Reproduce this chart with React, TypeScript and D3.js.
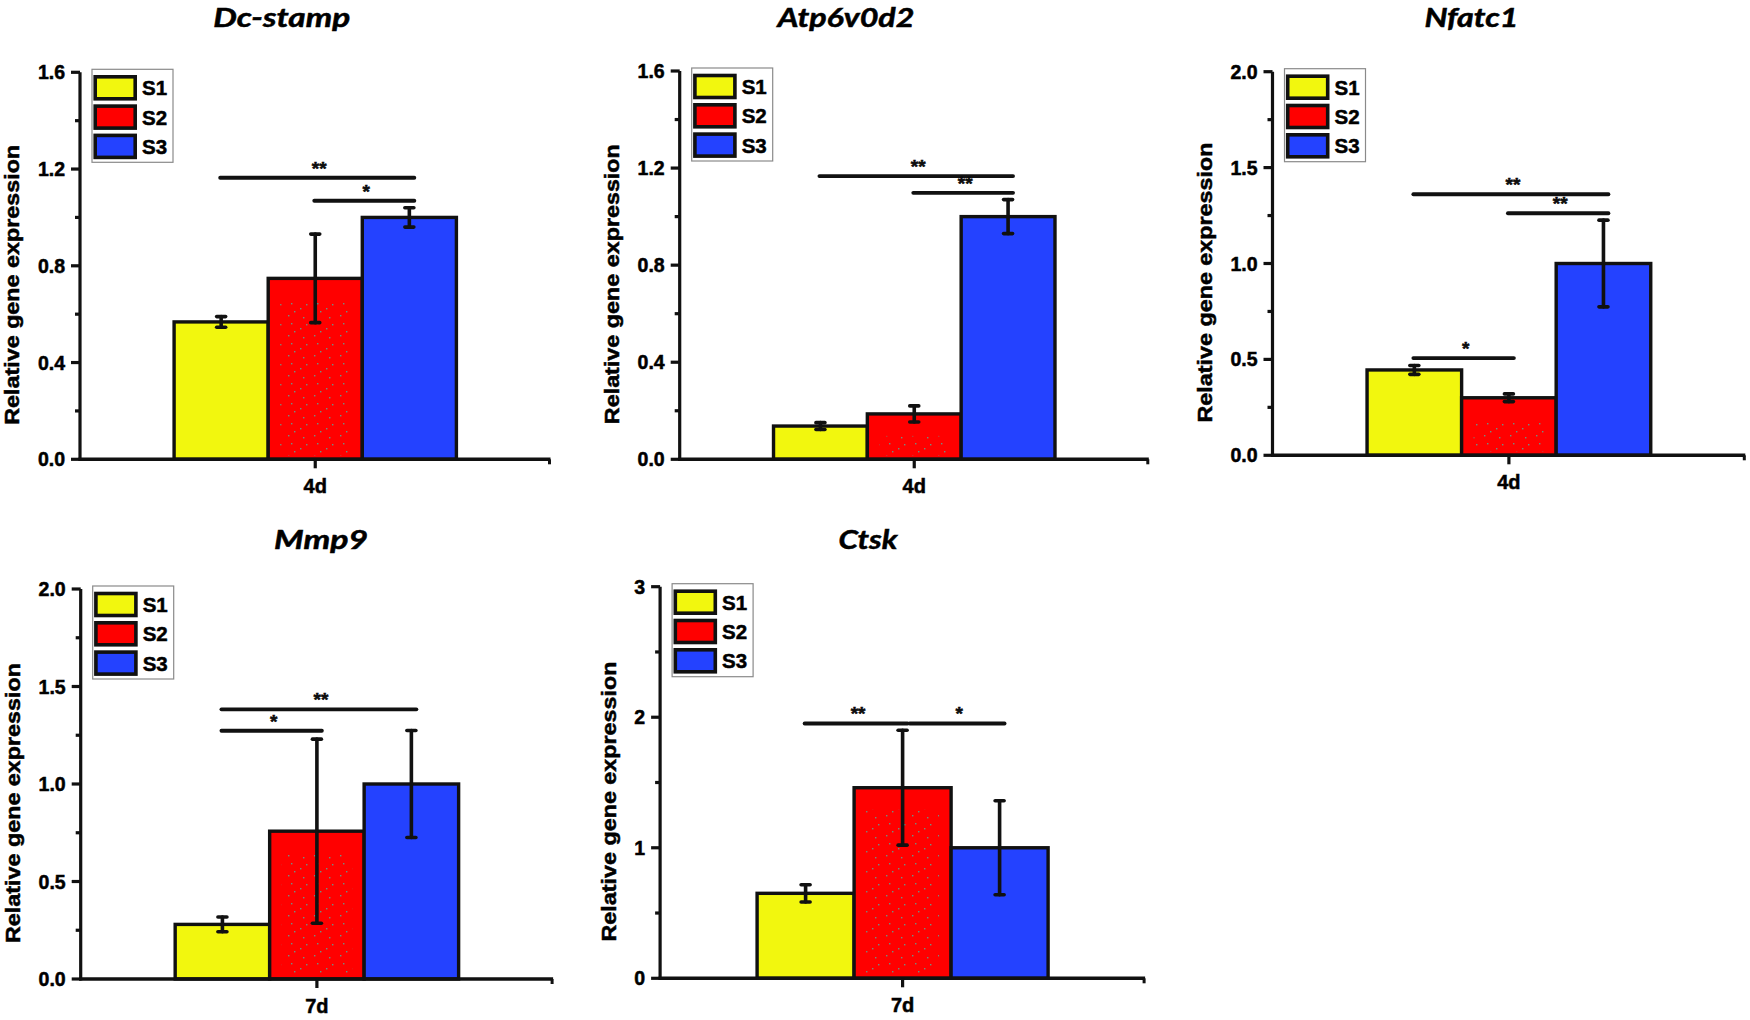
import React from "react";
import * as d3 from "d3";

// ---------- data ----------
const seriesNames = ["S1", "S2", "S3"];
const seriesColors = ["#f2f70e", "#ff0000", "#2442ff"];

const geneNames = ["Dc-stamp", "Atp6v0d2", "Nfatc1", "Mmp9", "Ctsk"];
const timeLabels = ["4d", "4d", "4d", "7d", "7d"];

const dcStampMean = [0.568, 0.748, 1.0];
const dcStampSD = [0.022, 0.183, 0.04];
const atp6v0d2Mean = [0.137, 0.187, 1.0];
const atp6v0d2SD = [0.014, 0.033, 0.07];
const nfatc1Mean = [0.445, 0.3, 1.0];
const nfatc1SD = [0.023, 0.02, 0.226];
const mmp9Mean = [0.28, 0.758, 1.0];
const mmp9SD = [0.038, 0.472, 0.274];
const ctskMean = [0.651, 1.46, 1.0];
const ctskSD = [0.066, 0.44, 0.36];

const yMaxes = [1.6, 1.6, 2.0, 2.0, 3];
const yTickSteps = [0.4, 0.4, 0.5, 0.5, 1];
const yTickDecimals = [1, 1, 1, 1, 0];

type Sig = { from: number; to: number; at: number; label: string };
const dcStampSig: Sig[] = [
  { from: 0, to: 2, at: 1.164, label: "**" },
  { from: 1, to: 2, at: 1.069, label: "*" },
];
const atp6v0d2Sig: Sig[] = [
  { from: 0, to: 2, at: 1.167, label: "**" },
  { from: 1, to: 2, at: 1.098, label: "**" },
];
const nfatc1Sig: Sig[] = [
  { from: 0, to: 2, at: 1.361, label: "**" },
  { from: 1, to: 2, at: 1.262, label: "**" },
  { from: 0, to: 1, at: 0.507, label: "*" },
];
const mmp9Sig: Sig[] = [
  { from: 0, to: 2, at: 1.383, label: "**" },
  { from: 0, to: 1, at: 1.273, label: "*" },
];
const ctskSig: Sig[] = [
  { from: 0, to: 1, at: 1.952, label: "**" },
  { from: 1, to: 2, at: 1.952, label: "*" },
];

const allMeans = [dcStampMean, atp6v0d2Mean, nfatc1Mean, mmp9Mean, ctskMean];
const allSDs = [dcStampSD, atp6v0d2SD, nfatc1SD, mmp9SD, ctskSD];
const allSigs = [dcStampSig, atp6v0d2Sig, nfatc1Sig, mmp9Sig, ctskSig];

// ---------- layout ----------
const frames = [
  { left: 80, right: 550.5, top: 72.3, bottom: 459.3, titleX: 281.7, titleY: 27, titleW: 137 },
  { left: 679.7, right: 1148.8, top: 71, bottom: 459.3, titleX: 846, titleY: 27, titleW: 137 },
  { left: 1272.5, right: 1745.3, top: 71.7, bottom: 455.3, titleX: 1471.5, titleY: 27, titleW: 94 },
  { left: 80.7, right: 553.1, top: 589, bottom: 979, titleX: 321, titleY: 549, titleW: 94 },
  { left: 660.1, right: 1145.1, top: 586.7, bottom: 978.3, titleX: 868, titleY: 549, titleW: 59 },
];

const FONT = "'Liberation Sans', Arial, Helvetica, sans-serif";
const INK = "#111";
const heavy = { stroke: "#000", strokeWidth: 0.5 };

function Panel({ i }: { i: number }) {
  const f = frames[i];
  const means = allMeans[i];
  const sds = allSDs[i];
  const sigs = allSigs[i];
  const yMax = yMaxes[i];
  const step = yTickSteps[i];
  const dec = yTickDecimals[i];

  const y = d3.scaleLinear().domain([0, yMax]).range([f.bottom, f.top]);
  const xGroup = d3
    .scaleBand<string>()
    .domain([timeLabels[i]])
    .range([f.left, f.right])
    .paddingInner(0)
    .paddingOuter(1 / 3);
  const xSeries = d3
    .scaleBand<string>()
    .domain(seriesNames)
    .range([xGroup(timeLabels[i])!, xGroup(timeLabels[i])! + xGroup.bandwidth()])
    .padding(0);
  const cx = (k: number) => xSeries(seriesNames[k])! + xSeries.bandwidth() / 2;

  const nMajor = Math.round(yMax / step);
  const majors = d3.range(nMajor + 1).map((k) => k * step);
  const minors = d3.range(nMajor).map((k) => (k + 0.5) * step);
  const fmt = d3.format(`.${dec}f`);
  const tickFont = 19.5;
  const longest = d3.max(majors.map((v) => fmt(v).length))!;
  const tickW = dec > 0 ? ((longest - 1) * 0.556 + 0.278) * tickFont : longest * 0.556 * tickFont;
  const labelX = f.left - (tickW + 33.5);
  const labelY = (f.top + f.bottom) / 2 + 19;

  const legendX = f.left + 12;
  const legendY = f.top - 3;
  const tickCx = xGroup(timeLabels[i])! + xGroup.bandwidth() / 2;

  return (
    <g>
      {/* title */}
      <text
        x={f.titleX}
        y={f.titleY}
        textAnchor="middle"
        fontFamily="Lato, 'Open Sans', sans-serif"
        fontWeight={700}
        fontStyle="italic"
        fontSize={26}
        textLength={f.titleW}
        lengthAdjust="spacingAndGlyphs"
        fill="#000"
        {...heavy}
      >
        {geneNames[i]}
      </text>

      {/* bars */}
      {means.map((m, k) => (
        <g key={k}>
          <rect
            x={xSeries(seriesNames[k])}
            y={y(m)}
            width={xSeries.bandwidth()}
            height={y(0) - y(m)}
            fill={seriesColors[k]}
            stroke={INK}
            strokeWidth={3.4}
          />
          {k === 1 && y(0) - y(m) > 40 && (
            <rect
              x={xSeries(seriesNames[k])! + 12}
              y={y(m) + 22}
              width={xSeries.bandwidth() - 24}
              height={y(0) - y(m) - 26}
              fill="url(#dots)"
            />
          )}
        </g>
      ))}

      {/* error bars */}
      {means.map((m, k) => (
        <g key={"e" + k} stroke={INK} strokeWidth={3.6} strokeLinecap="round">
          <line x1={cx(k)} x2={cx(k)} y1={y(m - sds[k])} y2={y(m + sds[k])} />
          <line x1={cx(k) - 4.5} x2={cx(k) + 4.5} y1={y(m + sds[k])} y2={y(m + sds[k])} />
          <line x1={cx(k) - 4.5} x2={cx(k) + 4.5} y1={y(m - sds[k])} y2={y(m - sds[k])} />
        </g>
      ))}

      {/* significance */}
      {sigs.map((s, k) => {
        const shared = sigs.some((o, j) => j !== k && o.at === s.at && o.to === s.from);
        const x1 = cx(s.from) - 1 + (shared ? 8 : 0);
        const x2 = cx(s.to) + 5;
        return (
          <g key={"s" + k}>
            <line x1={x1} x2={x2} y1={y(s.at)} y2={y(s.at)} stroke={INK} strokeWidth={3.8} strokeLinecap="round" />
            <text
              x={(x1 + x2) / 2 + 2}
              y={y(s.at) - 3}
              textAnchor="middle"
              fontFamily={FONT}
              fontWeight={700}
              fontSize={19}
              fill={INK}
              {...heavy}
            >
              {s.label}
            </text>
          </g>
        );
      })}

      {/* y axis */}
      <line x1={f.left} x2={f.left} y1={f.top} y2={f.bottom + 1.5} stroke={INK} strokeWidth={3.2} />
      {majors.map((v) => (
        <g key={"t" + v}>
          <line x1={f.left - 9} x2={f.left} y1={y(v)} y2={y(v)} stroke={INK} strokeWidth={3.2} />
          <text
            x={f.left - 15}
            y={y(v) + 7}
            textAnchor="end"
            fontFamily={FONT}
            fontWeight={700}
            fontSize={tickFont}
            fill="#000"
            {...heavy}
          >
            {fmt(v)}
          </text>
        </g>
      ))}
      {minors.map((v) => (
        <line key={"m" + v} x1={f.left - 5} x2={f.left} y1={y(v)} y2={y(v)} stroke={INK} strokeWidth={3.2} />
      ))}

      {/* x axis */}
      <line x1={f.left - 1.5} x2={f.right} y1={f.bottom} y2={f.bottom} stroke={INK} strokeWidth={3.4} />
      <line x1={tickCx} x2={tickCx} y1={f.bottom} y2={f.bottom + 9} stroke={INK} strokeWidth={3.2} />
      <line x1={f.right - 1} x2={f.right - 1} y1={f.bottom} y2={f.bottom + 5} stroke={INK} strokeWidth={3} />
      <text
        x={tickCx}
        y={f.bottom + 34}
        textAnchor="middle"
        fontFamily={FONT}
        fontWeight={700}
        fontSize={20}
        fill="#000"
        {...heavy}
      >
        {timeLabels[i]}
      </text>

      {/* y label */}
      <text
        transform={`translate(${labelX},${labelY}) rotate(-90)`}
        textAnchor="middle"
        fontFamily={FONT}
        fontWeight={700}
        fontSize={20.5}
        textLength={280}
        lengthAdjust="spacingAndGlyphs"
        fill="#000"
        {...heavy}
      >
        Relative gene expression
      </text>

      {/* legend */}
      <rect x={legendX} y={legendY} width={81} height={93} fill="#fff" stroke="#8a8a8a" strokeWidth={1.2} />
      {seriesNames.map((s, k) => (
        <g key={"l" + s}>
          <rect
            x={legendX + 3.2}
            y={legendY + 7.5 + k * 29.3}
            width={40}
            height={22}
            fill={seriesColors[k]}
            stroke={INK}
            strokeWidth={3.6}
          />
          <text
            x={legendX + 50}
            y={legendY + 7.5 + k * 29.3 + 18.5}
            fontFamily={FONT}
            fontWeight={700}
            fontSize={20.5}
            fill="#000"
            {...heavy}
          >
            {s}
          </text>
        </g>
      ))}
    </g>
  );
}

export default function App() {
  return (
    <svg
      width={1750}
      height={1020}
      viewBox="0 0 1750 1020"
      style={{ position: "absolute", left: 0, top: 0, background: "#fff" }}
    >
      <defs>
        <pattern id="dots" width="26" height="20" patternUnits="userSpaceOnUse">
          <rect x="2" y="15" width="1.4" height="1.4" fill="#6f8f82" />
          <rect x="8" y="11" width="1.4" height="1.4" fill="#6f8f82" />
          <rect x="14" y="8" width="1.4" height="1.4" fill="#6f8f82" />
          <rect x="20" y="4" width="1.4" height="1.4" fill="#6f8f82" />
          <rect x="5" y="3" width="1.4" height="1.4" fill="#6f8f82" />
          <rect x="17" y="17" width="1.4" height="1.4" fill="#6f8f82" />
        </pattern>
      </defs>
      <rect x={0} y={0} width={1750} height={1020} fill="#fff" />
      {geneNames.map((_, i) => (
        <Panel key={i} i={i} />
      ))}
    </svg>
  );
}
